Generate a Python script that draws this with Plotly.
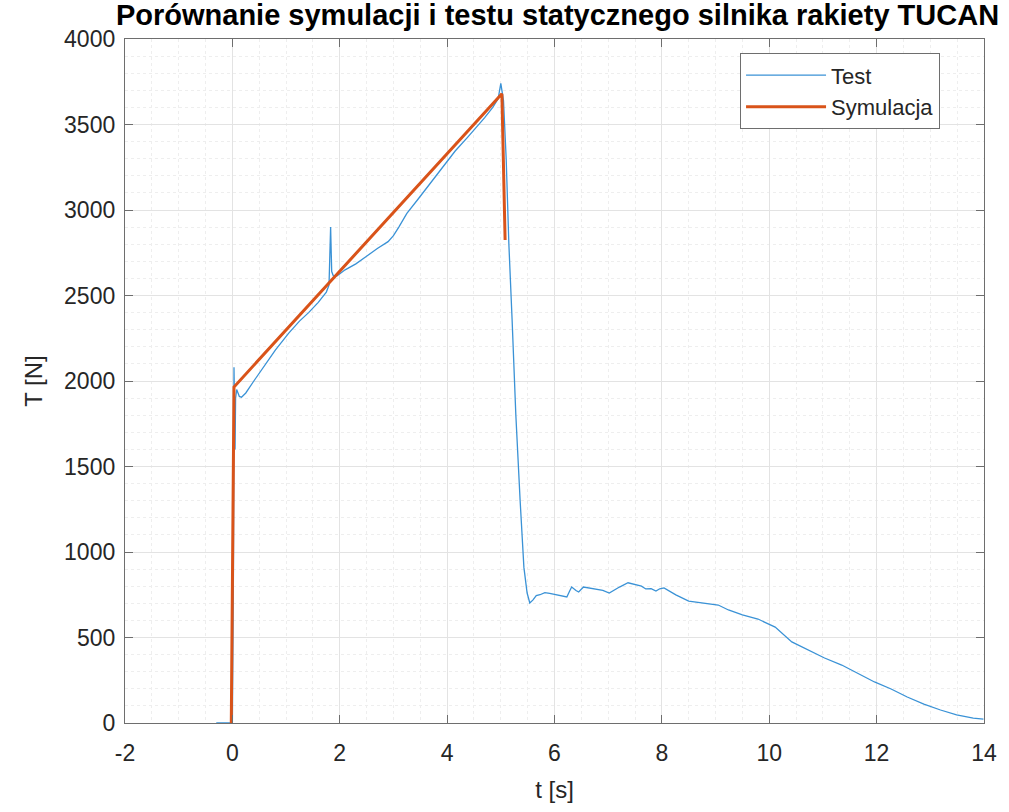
import plotly.graph_objects as go

# Static fire test of the TUCAN rocket motor: measured thrust
t_test = [-0.30, -0.02, 0.00, 0.02, 0.03, 0.05, 0.06, 0.08, 0.10, 0.13, 0.17,
          0.25, 0.40, 0.60, 0.80, 1.05, 1.25, 1.42, 1.60, 1.75, 1.80, 1.83,
          1.85, 1.88, 1.95, 2.10, 2.30, 2.48, 2.70, 2.90, 3.00, 3.10, 3.25,
          3.45, 3.70, 3.95, 4.15, 4.38, 4.55, 4.70, 4.85, 4.95, 5.00, 5.05,
          5.10, 5.15, 5.21, 5.28, 5.36, 5.43, 5.49, 5.54, 5.60, 5.66, 5.73,
          5.82, 5.91, 6.00, 6.10, 6.23, 6.28, 6.32, 6.40, 6.45, 6.54, 6.65,
          6.78, 6.90, 7.02, 7.12, 7.21, 7.37, 7.52, 7.62, 7.70, 7.80, 7.89,
          7.96, 8.04, 8.15, 8.26, 8.50, 8.81, 9.05, 9.24, 9.50, 9.79, 9.98,
          10.11, 10.42, 10.72, 11.03, 11.35, 11.64, 11.96, 12.27, 12.57,
          12.88, 13.19, 13.49, 13.80, 13.99]
T_test = [0, 0, 0, 900, 2080, 1600, 1900, 1950, 1930, 1910, 1905,
          1930, 2000, 2090, 2180, 2280, 2350, 2400, 2460, 2520, 2560, 2900,
          2640, 2615, 2615, 2650, 2685, 2725, 2775, 2815, 2850, 2900, 2980,
          3060, 3160, 3265, 3345, 3425, 3485, 3540, 3600, 3650, 3740, 3640,
          3300, 2800, 2360, 1800, 1300, 910, 760, 702, 720, 745, 750,
          762, 758, 752, 748, 737, 770, 795, 775, 766, 795, 790,
          784, 775, 760, 780, 795, 820, 807, 800, 784, 785, 772,
          785, 790, 770, 749, 713, 702, 690, 661, 632, 608, 579,
          561, 474, 427, 380, 339, 292, 240, 199, 152,
          111, 76, 47, 29, 23]

# Simulated thrust curve
t_sim = [-0.02, 0.03, 5.02, 5.08]
T_sim = [0, 1965, 3680, 2825]

# Tick labels (plain hyphen for negatives)
x_ticks = [-2, 0, 2, 4, 6, 8, 10, 12, 14]
x_ticktext = ["-2", "0", "2", "4", "6", "8", "10", "12", "14"]
y_ticks = [0, 500, 1000, 1500, 2000, 2500, 3000, 3500, 4000]

BLUE = "#3a92d6"
ORANGE = "#D95319"
AX = "#6e6e6e"
TXT = "#262626"
FONT = "Liberation Sans, Arial, sans-serif"

fig = go.Figure()
fig.add_trace(go.Scatter(x=t_test, y=T_test, mode="lines", name="Test",
                         line=dict(color=BLUE, width=1.3)))
fig.add_trace(go.Scatter(x=t_sim, y=T_sim, mode="lines", name="Symulacja",
                         line=dict(color=ORANGE, width=3)))

axis_common = dict(
    showline=True, linecolor=AX, linewidth=1.3, mirror="ticks",
    ticks="inside", ticklen=8, tickcolor=AX, tickwidth=1,
    showgrid=True, gridcolor="#e3e3e3", gridwidth=1,
    zeroline=False,
    tickfont=dict(family=FONT, size=23, color=TXT),
)

fig.update_xaxes(
    range=[-2, 14], tickmode="array", tickvals=x_ticks, ticktext=x_ticktext,
    ticklabelstandoff=9,
    minor=dict(dtick=0.5, tick0=-2, showgrid=True, gridcolor="#eeeeee", griddash="dot", ticks=""),
    title=dict(text="t [s]", font=dict(family=FONT, size=24, color=TXT), standoff=16),
    **axis_common,
)
fig.update_yaxes(
    range=[0, 4000], tickmode="array", tickvals=y_ticks,
    ticklabelstandoff=4,
    minor=dict(dtick=100, tick0=0, showgrid=True, gridcolor="#eeeeee", griddash="dot", ticks=""),
    title=dict(text="T [N]", font=dict(family=FONT, size=24, color=TXT), standoff=14),
    **axis_common,
)

fig.update_layout(
    width=1009, height=812,
    margin=dict(l=125, r=19, t=39, b=89),
    paper_bgcolor="white", plot_bgcolor="white",
    title=dict(text="<b>Porównanie symulacji i testu statycznego silnika rakiety TUCAN</b>",
               x=(125 + 990) / 2 / 1009, xanchor="center", y=0.982, yanchor="middle",
               font=dict(family=FONT, size=29, color="black")),
    showlegend=True,
    legend=dict(x=0.716, xanchor="left", y=0.979, yanchor="top",
                bgcolor="white", bordercolor=AX, borderwidth=1,
                font=dict(family=FONT, size=22, color=TXT),
                itemwidth=80, tracegroupgap=0),
)

fig.write_html("out.html")
